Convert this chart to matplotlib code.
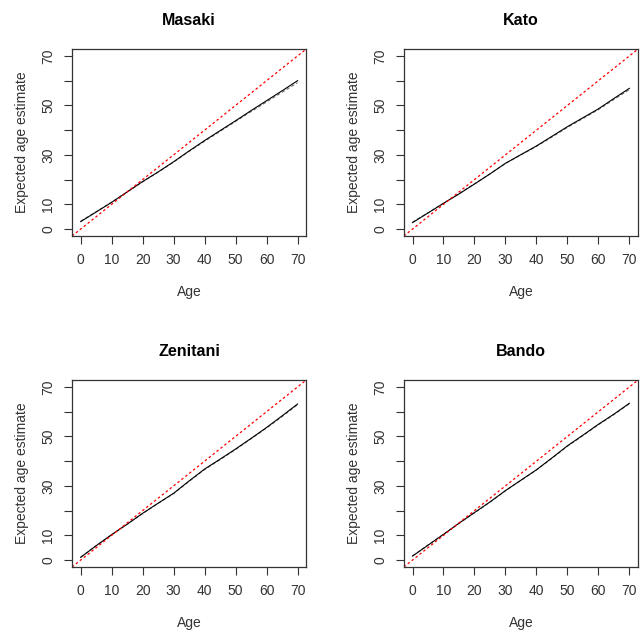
import matplotlib
matplotlib.use("Agg")
import matplotlib.pyplot as plt

plt.rcParams['font.family'] = ['Liberation Sans', 'DejaVu Sans']

ages = [0, 5, 10, 15, 20, 25, 30, 35, 40, 45, 50, 55, 60, 65, 70]

titles = ["Masaki", "Kato", "Zenitani", "Bando"]

# expected age estimate, main (solid) curve
masaki = [3.0, 6.9, 10.8, 15.0, 19.2, 23.1, 27.2, 31.6, 35.8, 39.8, 43.8, 47.9, 51.9, 55.9, 60.0]
kato = [2.6, 6.5, 10.4, 14.2, 18.2, 22.3, 26.6, 30.1, 33.6, 37.5, 41.4, 45.0, 48.6, 52.8, 56.9]
zenitani = [1.1, 5.8, 10.3, 14.5, 18.9, 23.0, 27.0, 32.0, 36.8, 40.8, 44.9, 49.2, 53.6, 58.3, 63.1]
bando = [1.6, 6.0, 10.4, 14.9, 19.2, 23.5, 28.1, 32.3, 36.5, 41.3, 46.2, 50.5, 54.9, 59.0, 63.4]

# second (dashed grey) curve, nearly on top of the first
masaki2 = [3.2, 7.0, 10.9, 15.0, 19.1, 23.0, 27.1, 31.4, 35.5, 39.5, 43.5, 47.5, 51.4, 55.3, 59.2]
kato2 = [2.8, 6.6, 10.5, 14.3, 18.3, 22.3, 26.5, 30.0, 33.4, 37.2, 41.1, 44.7, 48.3, 52.4, 56.4]
zenitani2 = [1.2, 5.8, 10.2, 14.5, 18.8, 22.9, 26.9, 31.8, 36.6, 40.6, 44.7, 49.0, 53.4, 58.0, 62.8]
bando2 = [1.7, 6.1, 10.4, 14.8, 19.1, 23.4, 28.0, 32.2, 36.4, 41.1, 46.0, 50.3, 54.7, 58.8, 63.2]

series = [(masaki, masaki2), (kato, kato2), (zenitani, zenitani2), (bando, bando2)]

fig = plt.figure(figsize=(6.4, 6.39), dpi=100)
lefts = [0.1125, 0.631]
bottoms = [0.6307, 0.1127]
w, h = 0.366, 0.2926

for i, (title, (main, alt)) in enumerate(zip(titles, series)):
    ax = fig.add_axes([lefts[i % 2], bottoms[i // 2], w, h])
    ax.plot(ages, alt, color="0.45", lw=0.8, ls=(0, (3, 2)))
    ax.plot(ages, main, color="black", lw=0.8)
    ax.axline((0, 0), slope=1, color="red", lw=0.9, ls=(0, (2, 2)))
    ax.set_xlim(-2.8, 72.8)
    ax.set_ylim(-2.8, 72.8)
    ax.set_xticks(range(0, 71, 10))
    ax.set_yticks(range(0, 71, 10))
    ax.set_yticklabels(["0", "10", "", "30", "", "50", "", "70"])
    ax.tick_params(labelsize=10, length=6, width=0.8, color="#333333", labelcolor="#333333", pad=6)
    ax.tick_params(axis="y", labelrotation=90)
    for lbl in ax.get_yticklabels():
        lbl.set_va("center")
    for s in ax.spines.values():
        s.set_linewidth(0.9)
        s.set_color("#333333")
    ax.set_title(title, fontsize=11.5, fontweight="bold", pad=17)
    ax.set_xlabel("Age", fontsize=10, labelpad=13, color="#333333")
    ax.set_ylabel("Expected age estimate", fontsize=10, labelpad=9, color="#333333")

fig.savefig("out.png", dpi=100)
